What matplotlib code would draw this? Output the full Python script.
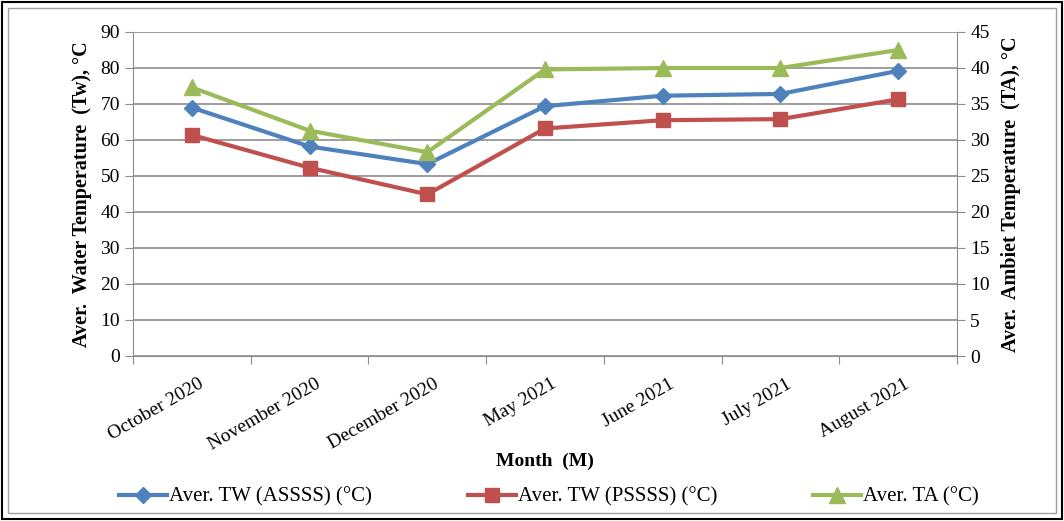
import matplotlib
matplotlib.use("Agg")
import matplotlib.pyplot as plt
from matplotlib.patches import Rectangle

months = ["October 2020", "November 2020", "December 2020", "May 2021",
          "June 2021", "July 2021", "August 2021"]
tw_assss = [69.0, 58.2, 53.3, 69.4, 72.3, 72.8, 79.2]
tw_pssss = [61.4, 52.3, 44.9, 63.2, 65.5, 65.8, 71.3]
ta = [37.3, 31.3, 28.3, 39.8, 40.0, 40.0, 42.5]

left_ticks = list(range(0, 91, 10))
right_ticks = list(range(0, 46, 5))

serif = ["Liberation Serif", "DejaVu Serif"]
plt.rcParams['font.family'] = serif

blue = "#4F81BD"
red = "#C0504D"
green = "#9BBB59"

fig = plt.figure(figsize=(10.64, 5.21), dpi=100)
ax = fig.add_axes([133/1064, 1-356/521, (957-133)/1064, (356-32)/521])
ax2 = ax.twinx()

x = list(range(len(months)))
l1, = ax.plot(x, tw_assss, color=blue, lw=3, marker="D", ms=8, label="Aver. TW (ASSSS) (°C)")
l2, = ax.plot(x, tw_pssss, color=red, lw=3, marker="s", ms=10, label="Aver. TW (PSSSS) (°C)")
l3, = ax2.plot(x, ta, color=green, lw=3, marker="^", ms=11, label="Aver. TA (°C)")

ax.set_xlim(-0.5, len(months) - 0.5)
ax.set_ylim(0, 90)
ax2.set_ylim(0, 45)
ax.set_yticks(left_ticks)
ax2.set_yticks(right_ticks)
ax.grid(axis="y", color="#8c8c8c", lw=1.2)
ax.set_axisbelow(True)

# category boundary ticks
ax.set_xticks([i - 0.5 for i in range(len(months) + 1)])
ax.set_xticklabels([])
ax.tick_params(axis="x", length=6, color="#8c8c8c", direction="out")
for i, m in enumerate(months):
    ax.text(i + 0.05, -0.06, m, transform=ax.get_xaxis_transform(),
            rotation=30, ha="right", va="top", rotation_mode="anchor",
            fontsize=14, color="black")

for a in (ax, ax2):
    for s in a.spines.values():
        s.set_visible(False)
ax.spines["left"].set_visible(True)
ax.spines["left"].set_color("#8c8c8c")
ax.spines["bottom"].set_visible(True)
ax.spines["bottom"].set_color("#8c8c8c")
ax2.spines["right"].set_visible(True)
ax2.spines["right"].set_color("#8c8c8c")

ax.tick_params(axis="y", length=6, color="#8c8c8c", labelsize=14)
ax2.tick_params(axis="y", length=6, color="#8c8c8c", labelsize=14)

ax.set_ylabel("Aver.  Water Temperature  (Tw), °C", fontsize=14.5, fontweight="bold", labelpad=6)
ax2.set_ylabel("Aver.  Ambiet Temperature  (TA), °C", fontsize=14.5, fontweight="bold", labelpad=8)

fig.text((133+957)/2/1064, 1-461/521, "Month  (M)", ha="center", va="center",
         fontsize=14, fontweight="bold")

fig.legend(handles=[l1, l2, l3], loc="center", bbox_to_anchor=(0.516, 1-497/521),
           ncol=3, frameon=False, fontsize=15, columnspacing=4.6, handlelength=2.3,
           handletextpad=0.1)

# outer double border
fig.patches.append(Rectangle((2/1064, 2/521), 1-4/1064, 1-4/521, transform=fig.transFigure,
                             fill=False, ec="black", lw=1.5))
fig.patches.append(Rectangle((8/1064, 8/521), 1-16/1064, 1-16/521, transform=fig.transFigure,
                             fill=False, ec="#a0a0a0", lw=1))

fig.savefig("out.png", dpi=100)
